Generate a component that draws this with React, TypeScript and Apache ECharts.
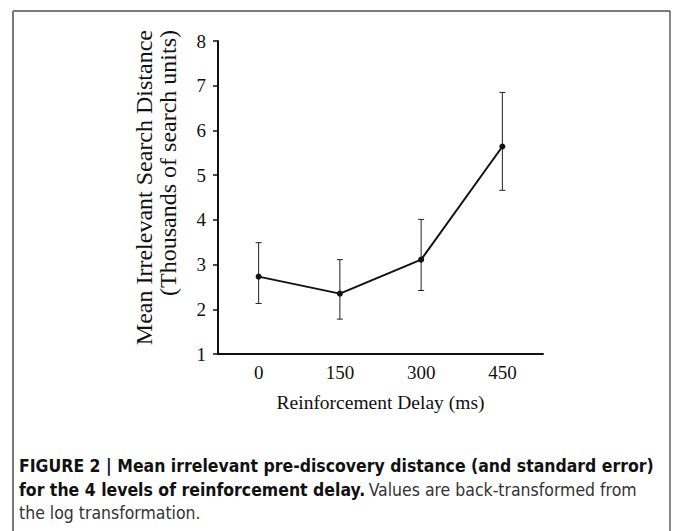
import React, { useEffect, useRef } from "react";
import * as echarts from "echarts";

const categories = ["0", "150", "300", "450"];
const meanValues = [2.73, 2.35, 3.11, 5.64];
const upperValues = [3.49, 3.11, 4.01, 6.85];
const lowerValues = [2.13, 1.78, 2.42, 4.66];
const yTicks = [1, 2, 3, 4, 5, 6, 7, 8];

const yTitle1 = "Mean Irrelevant Search Distance";
const yTitle2 = "(Thousands of search units)";
const xTitle = "Reinforcement Delay (ms)";
const caption1 = "FIGURE 2 | Mean irrelevant pre-discovery distance (and standard error)";
const caption2Bold = "for the 4 levels of reinforcement delay.";
const caption2Normal = "Values are back-transformed from";
const caption3 = "the log transformation.";

const SERIF = '"Liberation Serif", "Times New Roman", serif';
const NARROW = '"DejaVu Sans Condensed", "Liberation Sans Narrow", sans-serif';
const CAP_SCALE = 0.972;

export default function App() {
  const ref = useRef<HTMLDivElement>(null);
  useEffect(() => {
    if (!ref.current) return;
    const chart = echarts.init(ref.current, undefined, { renderer: "svg" });
    const errData = categories.map((c, i) => [i, lowerValues[i], upperValues[i]]);
    chart.setOption({
      animation: false,
      backgroundColor: "#ffffff",
      grid: { left: 218, right: 130, top: 41, bottom: 177, containLabel: false },
      xAxis: {
        type: "category",
        data: categories,
        boundaryGap: true,
        name: xTitle,
        nameLocation: "middle",
        nameGap: 38,
        nameTextStyle: { fontFamily: SERIF, fontSize: 19.5, color: "#111" },
        axisLine: { lineStyle: { color: "#111", width: 2 } },
        axisTick: { alignWithLabel: true, length: 5, lineStyle: { color: "#111", width: 1.5 } },
        axisLabel: { fontFamily: SERIF, fontSize: 19, color: "#111", margin: 9 },
        splitLine: { show: false },
      },
      yAxis: {
        type: "value",
        min: yTicks[0],
        max: yTicks[yTicks.length - 1],
        interval: 1,
        axisLine: { show: true, lineStyle: { color: "#111", width: 2 } },
        axisTick: { show: true, length: 5, lineStyle: { color: "#111", width: 1.5 } },
        axisLabel: { fontFamily: SERIF, fontSize: 19, color: "#111", margin: 12 },
        splitLine: { show: false },
      },
      series: [
        {
          type: "custom",
          data: errData,
          z: 1,
          renderItem: (params: any, api: any) => {
            const x = api.value(0);
            const lo = api.coord([x, api.value(1)]);
            const hi = api.coord([x, api.value(2)]);
            const w = 3;
            const st = { stroke: "#222", lineWidth: 1 };
            return {
              type: "group",
              children: [
                { type: "line", shape: { x1: lo[0], y1: lo[1], x2: hi[0], y2: hi[1] }, style: st },
                { type: "line", shape: { x1: lo[0] - w, y1: lo[1], x2: lo[0] + w, y2: lo[1] }, style: st },
                { type: "line", shape: { x1: hi[0] - w, y1: hi[1], x2: hi[0] + w, y2: hi[1] }, style: st },
              ],
            };
          },
        },
        {
          type: "line",
          data: meanValues,
          z: 2,
          symbol: "circle",
          symbolSize: 6,
          lineStyle: { color: "#111", width: 2 },
          itemStyle: { color: "#111" },
        },
      ],
      graphic: [
        { type: "line", shape: { x1: 13, y1: 11, x2: 670, y2: 11 }, style: { stroke: "#7a7a7a", lineWidth: 2 } },
        { type: "line", shape: { x1: 13, y1: 11, x2: 13, y2: 531 }, style: { stroke: "#7a7a7a", lineWidth: 2 } },
        { type: "line", shape: { x1: 670, y1: 11, x2: 670, y2: 531 }, style: { stroke: "#111", lineWidth: 1 } },
        {
          type: "text",
          x: 144,
          y: 30,
          rotation: Math.PI / 2,
          style: { text: yTitle1, font: `24px ${SERIF}`, fill: "#111", align: "right", verticalAlign: "middle" },
        },
        {
          type: "text",
          x: 168,
          y: 30,
          rotation: Math.PI / 2,
          style: { text: yTitle2, font: `24px ${SERIF}`, fill: "#111", align: "right", verticalAlign: "middle" },
        },
        {
          type: "text",
          x: 19,
          y: 466,
          scaleX: CAP_SCALE,
          style: { text: caption1, font: `bold 18px ${NARROW}`, fill: "#111", align: "left", verticalAlign: "middle" },
        },
        {
          type: "text",
          x: 19,
          y: 490,
          scaleX: CAP_SCALE,
          style: {
            text: `{b|${caption2Bold}} {n|${caption2Normal}}`,
            align: "left",
            verticalAlign: "middle",
            rich: {
              b: { font: `bold 18px ${NARROW}`, fill: "#111" },
              n: { font: `18px ${NARROW}`, fill: "#333" },
            },
          },
        },
        {
          type: "text",
          x: 19,
          y: 513,
          scaleX: CAP_SCALE,
          style: { text: caption3, font: `18px ${NARROW}`, fill: "#333", align: "left", verticalAlign: "middle" },
        },
      ],
    });
    return () => chart.dispose();
  }, []);
  return <div ref={ref} style={{ position: "fixed", left: 0, top: 0, width: 673, height: 531 }} />;
}
